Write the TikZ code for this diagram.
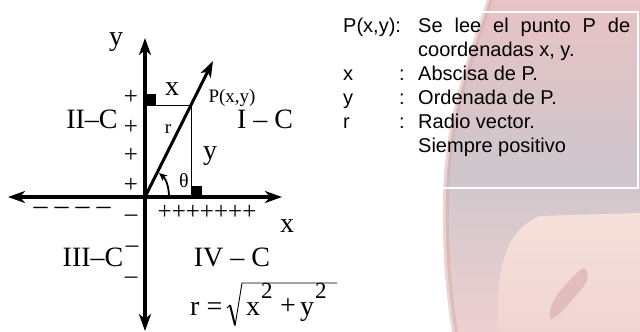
\documentclass[tikz,border=0pt]{standalone}
\usepackage{fontspec}
\setmainfont{Liberation Serif}
\newfontfamily\arialf{Liberation Sans}
\usetikzlibrary{arrows.meta}
\definecolor{blobtop}{RGB}{232,194,196}
\definecolor{blobmid}{RGB}{206,198,204}
\definecolor{blobbot}{RGB}{238,208,208}
\definecolor{peachA}{RGB}{245,226,218}
\definecolor{peachB}{RGB}{240,212,212}
\definecolor{tongue}{RGB}{216,166,172}
\definecolor{blobedge}{RGB}{214,172,168}
\begin{document}
\begin{tikzpicture}[x=1pt,y=-1pt,
  bigt/.style={inner sep=0pt,font=\fontsize{28}{28}\selectfont},
  midt/.style={inner sep=0pt,font=\fontsize{25}{25}\selectfont},
  smallt/.style={inner sep=0pt,font=\fontsize{19}{19}\selectfont},
  supt/.style={inner sep=0pt,font=\fontsize{23}{23}\selectfont},
  rtxt/.style={inner sep=0pt,anchor=base west,font=\arialf\fontsize{20}{20}\selectfont},
  axisline/.style={line width=3.5pt,{Stealth[length=17pt,width=12pt,inset=5pt]}-{Stealth[length=17pt,width=12pt,inset=5pt]}},
  vecline/.style={line width=3pt,-{Stealth[length=16pt,width=11pt,inset=4pt]}},
  thinline/.style={line width=1pt},
  frameline/.style={white,line width=1.5pt}]
% canvas
\useasboundingbox (0,0) rectangle (640,332);
% background blob
\begin{scope}
\clip (490,0) .. controls (470,60) and (447,120) .. (446,200)
  .. controls (445,260) and (450,300) .. (455,332) -- (640,332) -- (640,0) -- cycle;
\fill[blobmid] (440,0) rectangle (640,332);
\shade[top color=blobtop,bottom color=blobmid] (440,0) rectangle (640,170);
\shade[top color=blobmid,bottom color=blobbot] (440,170) rectangle (640,332);
\end{scope}
\draw[blobedge,line width=6pt,opacity=0.5]
  (490,0) .. controls (470,60) and (447,120) .. (446,200)
  .. controls (445,260) and (450,300) .. (455,332);
\begin{scope}
\clip (498,332) .. controls (496,280) and (500,232) .. (540,216) -- (640,213) -- (640,332) -- cycle;
\shade[top color=peachA,bottom color=peachB] (490,210) rectangle (640,332);
\end{scope}
\fill[tongue,opacity=0.55] (584,268) .. controls (590,272) and (589,281) .. (580,291)
  .. controls (570,302) and (560,316) .. (551,319) .. controls (547,314) and (552,300) .. (561,290)
  .. controls (569,281) and (577,271) .. (584,268) -- cycle;
\draw[frameline] (440,12) -- (638,12) -- (638,188) -- (440,188);

% coordinates
\coordinate (O) at (145,197);
\coordinate (xL) at (8,197);
\coordinate (xR) at (282,197);
\coordinate (yT) at (145,38);
\coordinate (yB) at (145,331);
\coordinate (P) at (191,105);
\coordinate (V) at (213,61);
\coordinate (Py) at (145,105);
\coordinate (Px) at (191,197);
\coordinate (ta) at (169,197);
\coordinate (tb) at (159,173);

% projection lines and right-angle marks
\draw[thinline] (Py) -- (P) -- (Px);
\fill (Py) rectangle ++(11,-11);
\fill (Px) rectangle ++(11,-11);

% axes
\draw[axisline] (xL) -- (xR);
\draw[axisline] (yT) -- (yB);
% radius vector
\draw[vecline] (O) -- (V);
% angle
\draw[line width=1.8pt,-{Stealth[length=8pt,width=7pt,inset=2pt]}] (ta) .. controls (169,187) and (166,179) .. (tb);

% labels
\node[bigt,anchor=base] (ylab) at (116,45) {y};
\node[bigt,anchor=base] (xlab) at (172,95) {x};
\node[smallt,anchor=base] (Plab) at (232,102) {P(x,y)};
\node[bigt,anchor=base] (q2) at (92,128) {II--C};
\node[bigt,anchor=base] (q1) at (265,128) {I -- C};
\node[smallt,anchor=base] (rlab) at (168,133) {r};
\node[bigt,anchor=base] (ylab2) at (210,159) {y};
\node[inner sep=0pt,font=\fontsize{20}{20}\selectfont,anchor=base] (th) at (184,187) {θ};
\node[midt] (p1) at (131,97) {+};
\node[midt] (p2) at (131,127) {+};
\node[midt] (p3) at (131,155) {+};
\node[midt] (p4) at (131,185) {+};
\node[midt] (m1) at (131,218) {--};
\node[midt] (m2) at (132,249) {--};
\node[midt] (m3) at (131,280) {--};
\node[bigt] (mx) at (72,211) {-- -- -- --};
\node[midt] (px) at (207,212) {+++++++};
\node[bigt,anchor=base] (xax) at (287,232) {x};
\node[bigt,anchor=base] (q3) at (93,266) {III--C};
\node[bigt,anchor=base] (q4) at (232,266) {IV -- C};

% formula r = sqrt(x^2 + y^2)
\node[bigt,anchor=base west] (fr) at (190,315) {r =};
\node[bigt,anchor=base west] (fx) at (246,315) {x};
\node[supt,anchor=base west] (f2a) at (261,298) {2};
\node[bigt] (fp) at (288,307) {+};
\node[bigt,anchor=base west] (fy) at (300,315) {y};
\node[supt,anchor=base west] (f2b) at (315,298) {2};
\draw[line width=0.9pt] (227,308) -- (230,305);
\draw[line width=2pt] (230,305) -- (235,325);
\draw[line width=0.9pt] (235,326) -- (242,283) -- (337,283);

% right text
\node[rtxt] (t1a) at (343,32) {P(x,y):};
\node[rtxt] (t1b) at (418,32) {\makebox[212pt][s]{Se lee el punto P de}};
\node[rtxt] (t2) at (418,56) {coordenadas x, y.};
\node[rtxt] (t3a) at (343,80) {x};
\node[rtxt] (t3c) at (399,80) {:};
\node[rtxt] (t3b) at (418,80) {Abscisa de P.};
\node[rtxt] (t4a) at (343,104) {y};
\node[rtxt] (t4c) at (399,104) {:};
\node[rtxt] (t4b) at (418,104) {Ordenada de P.};
\node[rtxt] (t5a) at (343,128) {r};
\node[rtxt] (t5c) at (399,128) {:};
\node[rtxt] (t5b) at (418,128) {Radio vector.};
\node[rtxt] (t6) at (418,152) {Siempre positivo};
\end{tikzpicture}
\end{document}
